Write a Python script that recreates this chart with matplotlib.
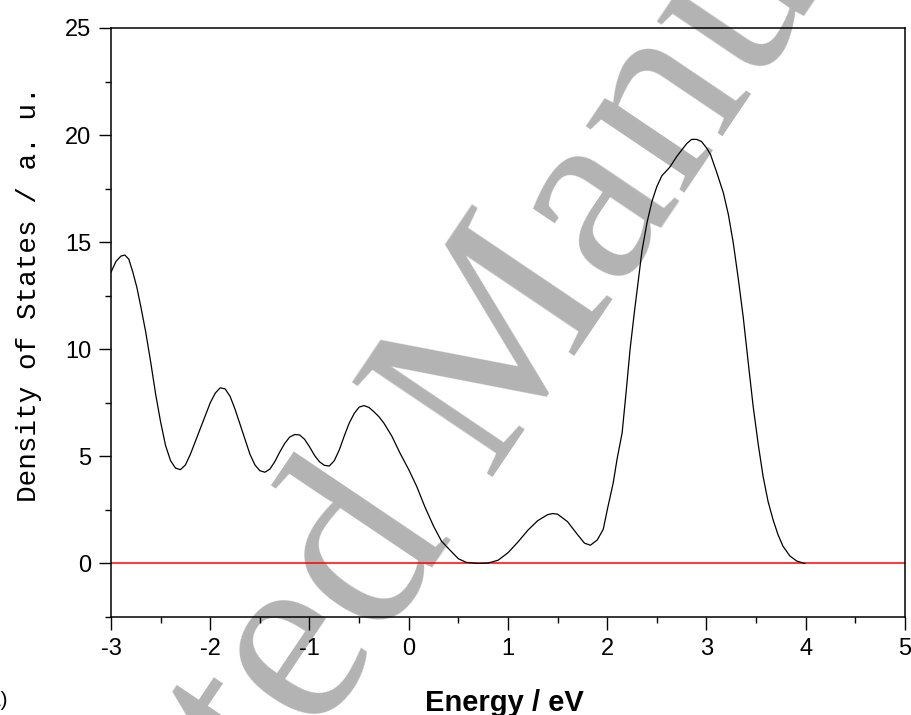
import matplotlib
matplotlib.use("Agg")
import matplotlib.pyplot as plt
from matplotlib.ticker import MultipleLocator

# density of states
energy = [-3.00, -2.95, -2.90, -2.86, -2.82, -2.78, -2.74, -2.70, -2.65, -2.60,
          -2.55, -2.50, -2.45, -2.40, -2.35, -2.30, -2.25, -2.20, -2.15, -2.10,
          -2.05, -2.00, -1.95, -1.90, -1.85, -1.80, -1.75, -1.70, -1.65, -1.60,
          -1.55, -1.50, -1.45, -1.40, -1.35, -1.30, -1.25, -1.20, -1.15, -1.10,
          -1.05, -1.00, -0.95, -0.90, -0.85, -0.80, -0.75, -0.70, -0.65, -0.60,
          -0.55, -0.50, -0.45, -0.40, -0.35, -0.30, -0.25, -0.17, -0.09, 0.00,
          0.08, 0.16, 0.25, 0.33, 0.42, 0.50, 0.58, 0.70, 0.80, 0.90,
          1.00, 1.10, 1.20, 1.30, 1.40, 1.45, 1.50, 1.60, 1.70, 1.77,
          1.83, 1.90, 1.96, 2.00, 2.06, 2.10, 2.15, 2.19, 2.23, 2.27,
          2.31, 2.35, 2.40, 2.45, 2.50, 2.55, 2.63, 2.70, 2.75, 2.80,
          2.85, 2.90, 2.95, 3.00, 3.04, 3.10, 3.17, 3.22, 3.27, 3.32,
          3.37, 3.42, 3.47, 3.52, 3.57, 3.62, 3.67, 3.72, 3.77, 3.84,
          3.91, 3.99]
dos = [13.6, 14.1, 14.35, 14.4, 14.2, 13.6, 12.9, 12.0, 10.8, 9.4,
       7.9, 6.6, 5.5, 4.8, 4.45, 4.38, 4.6, 5.1, 5.7, 6.3,
       6.9, 7.5, 7.95, 8.2, 8.15, 7.8, 7.2, 6.5, 5.8, 5.1,
       4.6, 4.33, 4.26, 4.4, 4.75, 5.2, 5.6, 5.9, 6.02, 6.0,
       5.8, 5.45, 5.05, 4.75, 4.58, 4.55, 4.8, 5.3, 5.95, 6.55,
       7.0, 7.3, 7.37, 7.28, 7.08, 6.85, 6.55, 5.94, 5.17, 4.38,
       3.6, 2.67, 1.74, 1.04, 0.6, 0.22, 0.05, 0.0, 0.02, 0.15,
       0.5, 1.0, 1.55, 2.0, 2.28, 2.33, 2.3, 1.95, 1.35, 0.95,
       0.85, 1.1, 1.6, 2.5, 3.76, 4.9, 6.1, 8.0, 10.0, 11.6,
       13.1, 14.6, 15.9, 16.9, 17.6, 18.1, 18.5, 19.0, 19.3, 19.6,
       19.8, 19.8, 19.7, 19.4, 19.1, 18.3, 17.3, 16.3, 14.96, 13.3,
       11.5, 9.4, 7.34, 5.6, 4.07, 2.9, 2.05, 1.35, 0.81, 0.35,
       0.11, 0.0]

xticks = [-3, -2, -1, 0, 1, 2, 3, 4, 5]
yticks = [0, 5, 10, 15, 20, 25]

plt.rcParams['axes.unicode_minus'] = False
plt.rcParams['font.family'] = ['Liberation Sans', 'DejaVu Sans']

fig = plt.figure(figsize=(9.12, 7.15), dpi=100)
ax = fig.add_axes([111 / 912, 1 - 617 / 715, 794 / 912, 589 / 715])
ax.patch.set_alpha(0)

# grey watermark behind the plot
fig.text(0.578, 0.405, 'Accepted Manuscript', family='Liberation Serif',
         fontsize=186, color='#b3b3b3', rotation=56, rotation_mode='anchor',
         ha='center', va='baseline', zorder=-5)

ax.axhline(0, color='red', lw=1.1)
ax.plot(energy, dos, color='black', lw=0.9)

ax.set_xlim(-3, 5)
ax.set_ylim(-2.5, 25)
ax.set_xticks(xticks)
ax.set_yticks(yticks)
ax.xaxis.set_minor_locator(MultipleLocator(0.5))
ax.yaxis.set_minor_locator(MultipleLocator(2.5))
ax.tick_params(which='major', direction='out', length=9, width=1,
               labelsize=17, top=False, right=False)
ax.tick_params(which='minor', direction='out', length=4.5, width=1,
               top=False, right=False)
ax.tick_params(axis='x', pad=6)
ax.tick_params(axis='y', pad=5)
for s in ax.spines.values():
    s.set_linewidth(1.1)

ax.set_xlabel('Energy / eV', fontsize=21, fontweight='bold', va='baseline')
ax.xaxis.set_label_coords(0.496, -0.159)
ax.set_ylabel('Density of States / a. u.', family='Liberation Mono', fontsize=20)
ax.yaxis.set_label_coords(-0.087, 0.548)

fig.text(8 / 912, 1 - 706 / 715, '(a)', fontsize=15, ha='right', va='baseline')

fig.savefig('out.png', dpi=100)
